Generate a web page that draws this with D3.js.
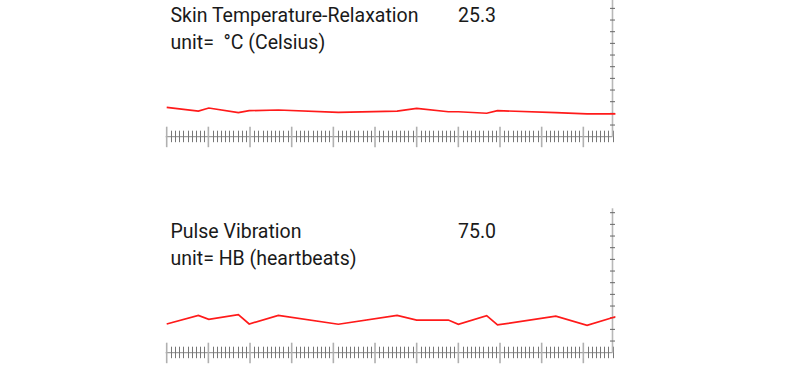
<!DOCTYPE html>
<html>
<head>
<meta charset="utf-8">
<script src="https://cdn.jsdelivr.net/npm/d3@7"></script>
<style>
  body { margin: 0; background: #fff; }
  svg { display: block; }
  text { font-family: Roboto, 'Noto Sans', sans-serif; fill: #1a1a1a; }
</style>
</head>
<body>
<svg id="chart" width="800" height="370"></svg>
<script>
'use strict';

// sample times (s) shared by both traces
var sampleTimes = [0, 7.6, 10.1, 17.2, 19.8, 26.8, 41.2, 55.3, 60, 67.6, 70, 76.8, 79.4, 93.4, 100.9, 107.7];

var skinTemp = [25.52, 25.20, 25.46, 25.06, 25.23, 25.29, 25.09, 25.20, 25.43, 25.14, 25.14, 25.01, 25.23, 25.07, 24.95, 24.95];
var pulseRate = [72.3, 76.0, 74.3, 76.3, 72.3, 76.0, 72.2, 76.0, 74.0, 74.0, 72.2, 75.9, 71.9, 75.7, 71.7, 75.4];

var titles = ['Skin Temperature-Relaxation', 'Pulse Vibration'];
var units = ['unit=  \u00b0C (Celsius)', 'unit= HB (heartbeats)'];
var readouts = ['25.3', '75.0'];
var yDomains = [[23, 35], [60, 120]];
var yTickStep = [1, 5];

var svg = d3.select('#chart');

var x = d3.scaleLinear().domain([0, 107]).range([166.7, 612.5]);

var panel = function(i, values) {
    var oy = i * 216;
    var axisY = 136.7 + oy;
    var g = svg.append('g');

    var y = d3.scaleLinear()
        .domain(yDomains[i])
        .range([axisY, axisY - 140]);

    // labels
    g.append('text').attr('x', 170.5).attr('y', 21.8 + oy)
        .attr('font-size', '19.5px').text(titles[i]);
    g.append('text').attr('x', 170.5).attr('y', 49 + oy)
        .attr('font-size', '19.5px').style('white-space', 'pre').text(units[i]);
    g.append('text').attr('x', 458).attr('y', 21.8 + oy)
        .attr('font-size', '19.5px').text(readouts[i]);

    // time axis
    var minor = d3.range(0, 108, 1).filter(function(t) { return t % 10 !== 0; });
    var major = d3.range(0, 101, 10);

    g.append('line')
        .attr('x1', x(0) - 1).attr('x2', x(107))
        .attr('y1', axisY).attr('y2', axisY)
        .attr('stroke', '#8a8a8a').attr('stroke-width', 1);

    g.selectAll('.minor').data(minor).enter().append('line')
        .attr('class', 'minor')
        .attr('x1', function(d) { return Math.round(x(d)) + 0.5; })
        .attr('x2', function(d) { return Math.round(x(d)) + 0.5; })
        .attr('y1', axisY - 6).attr('y2', axisY + 5.5)
        .attr('stroke', '#777').attr('stroke-width', 1);

    g.selectAll('.major').data(major).enter().append('line')
        .attr('class', 'major')
        .attr('x1', function(d) { return x(d); })
        .attr('x2', function(d) { return x(d); })
        .attr('y1', axisY - 10).attr('y2', axisY + 10.5)
        .attr('stroke', '#b0b0b0').attr('stroke-width', 1.6);

    // value axis on the right
    var ax = x(107);
    g.append('line')
        .attr('x1', ax).attr('x2', ax)
        .attr('y1', axisY).attr('y2', axisY - 144.4)
        .attr('stroke', '#b8b8b8').attr('stroke-width', 1.6);

    var yt = d3.range(yDomains[i][0] + yTickStep[i], yDomains[i][1] + 0.01, yTickStep[i]);
    g.selectAll('.ytick').data(yt).enter().append('line')
        .attr('class', 'ytick')
        .attr('x1', ax - 2.5).attr('x2', ax + 2.5)
        .attr('y1', function(d) { return y(d); })
        .attr('y2', function(d) { return y(d); })
        .attr('stroke', '#666').attr('stroke-width', 1);

    // trace
    var line = d3.line()
        .x(function(d, k) { return x(sampleTimes[k]); })
        .y(function(d) { return y(d); });

    g.append('path')
        .datum(values)
        .attr('d', line)
        .attr('fill', 'none')
        .attr('stroke', '#ff1a1a')
        .attr('stroke-width', 1.7)
        .attr('stroke-linejoin', 'miter');
};

panel(0, skinTemp);
panel(1, pulseRate);
</script>
</body>
</html>
